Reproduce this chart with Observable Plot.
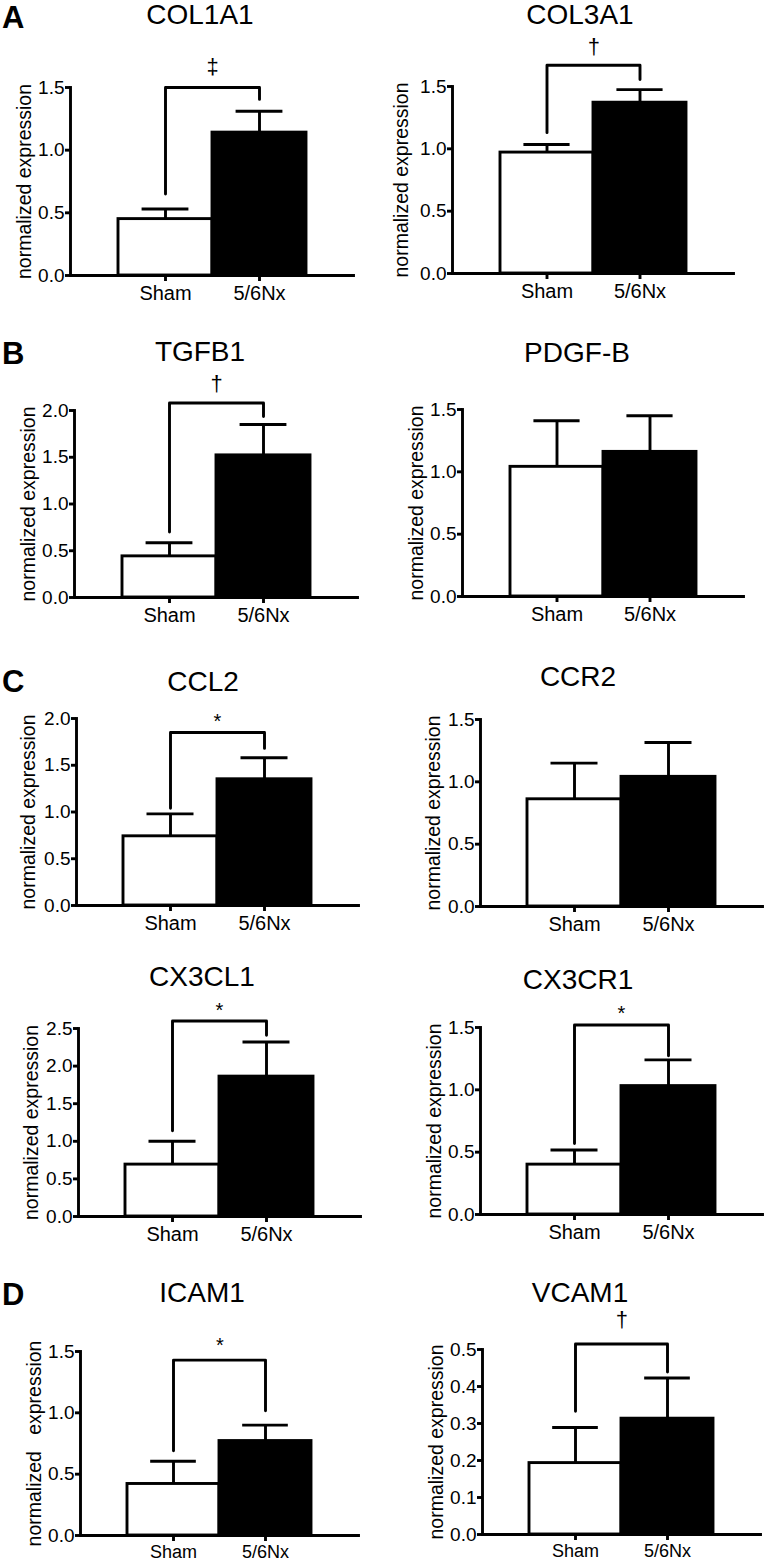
<!DOCTYPE html>
<html><head><meta charset="utf-8">
<script src="https://cdn.jsdelivr.net/npm/d3@7"></script>
<script src="https://cdn.jsdelivr.net/npm/@observablehq/plot@0.6"></script>
<style>
body{margin:0;background:#fff;}
#fig{position:relative;width:767px;height:1561px;background:#fff;font-family:"Liberation Sans",Arial,sans-serif;overflow:hidden;color:#000}
.title{position:absolute;transform:translate(-50%,-50%);font-size:28px;line-height:1;white-space:nowrap}
.letter{position:absolute;left:2px;transform:translateY(-50%);font-weight:bold;font-size:31px;line-height:1}
.panel{position:absolute;left:0;top:0}
svg text{white-space:pre}
</style></head><body><div id="fig"></div>
<script>
// ---- data ----
const groups = ["Sham", "5/6Nx"];
const genes = ["COL1A1", "COL3A1", "TGFB1", "PDGF-B", "CCL2", "CCR2", "CX3CL1", "CX3CR1", "ICAM1", "VCAM1"];
const shamMean = [0.45, 0.97, 0.44, 1.04, 0.74, 0.86, 0.69, 0.40, 0.42, 0.193];
const shamSEM  = [0.08, 0.065, 0.145, 0.37, 0.24, 0.29, 0.31, 0.117, 0.185, 0.096];
const nxMean   = [1.14, 1.37, 1.52, 1.16, 1.35, 1.04, 1.86, 1.03, 0.77, 0.313];
const nxSEM    = [0.17, 0.105, 0.33, 0.29, 0.23, 0.275, 0.46, 0.21, 0.13, 0.11];
const yMax     = [1.5, 1.5, 2.0, 1.5, 2.0, 1.5, 2.5, 1.5, 1.5, 0.5];
const yStep    = [0.5, 0.5, 0.5, 0.5, 0.5, 0.5, 0.5, 0.5, 0.5, 0.1];
const sigSymbol   = ["‡", "†", "†", null, "*", null, "*", "*", "*", "†"];
const bracketSham = [0.65, 1.13, 0.70, null, 1.04, null, 1.14, 0.57, 0.69, 0.333];
const bracketTop  = [1.50, 1.67, 2.08, null, 1.85, null, 2.60, 1.52, 1.43, 0.515];
const bracketNx   = [1.405, 1.556, 1.936, null, 1.68, null, 2.41, 1.273, 1.017, 0.439];
const yLabels = ["normalized expression", "normalized expression", "normalized expression", "normalized expression",
  "normalized expression", "normalized expression", "normalized expression", "normalized expression",
  "normalized   expression", "normalized expression"];
const panelLetters = ["A", null, "B", null, "C", null, null, null, "D", null];

// ---- layout (pixel placement only) ----
const layout = [
 {axisX:70,  yTop:87,   y0:275,  xEnd:353, titleX:200, titleY:15,   letterY:17,   labelLeft:17,  symGap:20, xFont:20},
 {axisX:452, yTop:86,   y0:273,  xEnd:733, titleX:580, titleY:15,   letterY:0,    labelLeft:394, symGap:18, xFont:20},
 {axisX:74,  yTop:410,  y0:597,  xEnd:357, titleX:200, titleY:352,  letterY:353,  labelLeft:21,  symGap:18, xFont:20},
 {axisX:462, yTop:409,  y0:596,  xEnd:743, titleX:577, titleY:353,  letterY:0,    labelLeft:409, symGap:0,  xFont:20},
 {axisX:76,  yTop:718,  y0:905,  xEnd:358, titleX:203, titleY:682,  letterY:681,  labelLeft:21,  symGap:17, xFont:20},
 {axisX:480, yTop:719,  y0:906,  xEnd:762, titleX:578, titleY:677,  letterY:0,    labelLeft:426, symGap:0,  xFont:20},
 {axisX:78,  yTop:1028, y0:1216, xEnd:360, titleX:202, titleY:977,  letterY:0,    labelLeft:24,  symGap:16, xFont:20},
 {axisX:480, yTop:1027, y0:1214, xEnd:762, titleX:578, titleY:980,  letterY:0,    labelLeft:427, symGap:18, xFont:20},
 {axisX:80,  yTop:1351, y0:1535, xEnd:358, titleX:202, titleY:1293, letterY:1294, labelLeft:27,  symGap:21, xFont:18},
 {axisX:482, yTop:1349, y0:1534, xEnd:760, titleX:580, titleY:1293, letterY:0,    labelLeft:429, symGap:23, xFont:18}
];

const fig = document.getElementById("fig");
const SW = 2.9;

genes.forEach((gene, i) => {
  const L = layout[i];
  const left = i % 2 === 0 ? 0 : 380;
  const MT = 70, MB = 40, MR = 6;
  const ML = L.axisX - left;
  const fw = L.xEnd - L.axisX;
  const fh = L.y0 - L.yTop;
  const W = ML + fw + MR, H = MT + fh + MB;
  const bw = fw / 3;
  const bars = groups.map((g, j) => ({
    group: g,
    mean: j ? nxMean[i] : shamMean[i],
    sem: j ? nxSEM[i] : shamSEM[i]
  }));
  const ticks = d3.range(0, yMax[i] + yStep[i] / 2, yStep[i]);
  const marks = [
    Plot.barY(bars, {x: "group", y: "mean", fill: d => d.group === "Sham" ? "white" : "black", stroke: "black", strokeWidth: SW}),
    Plot.ruleX(bars, {x: "group", y1: "mean", y2: d => d.mean + d.sem, stroke: "black", strokeWidth: SW}),
    Plot.tickY(bars, {x: "group", y: d => d.mean + d.sem, insetLeft: bw / 4, insetRight: bw / 4, stroke: "black", strokeWidth: SW}),
    Plot.frame({anchor: "left", stroke: "black", strokeWidth: SW}),
    Plot.frame({anchor: "bottom", stroke: "black", strokeWidth: SW}),
    Plot.axisY({ticks, tickFormat: ".1f", tickSize: 5, tickPadding: 1, fontSize: 19, label: null, strokeWidth: SW}),
    Plot.axisX({tickSize: 6, tickPadding: 4, fontSize: L.xFont, label: null, strokeWidth: SW}),
    Plot.text([yLabels[i]], {text: d => d, frameAnchor: "left", textAnchor: "middle", rotate: -90, lineAnchor: "top", dx: (L.labelLeft - left) - ML, fontSize: 19.5, fill: "black"})
  ];
  if (sigSymbol[i]) {
    const path = [
      {group: "Sham", v: bracketSham[i]},
      {group: "Sham", v: bracketTop[i]},
      {group: "5/6Nx", v: bracketTop[i]},
      {group: "5/6Nx", v: bracketNx[i]}
    ];
    const sym = sigSymbol[i];
    const centerOff = sym === "*" ? 12.5 : 6.4;
    marks.push(Plot.line(path, {x: "group", y: "v", stroke: "black", strokeWidth: SW, curve: "linear"}));
    marks.push(Plot.text([{group: "Sham", v: bracketTop[i], s: sym}], {x: "group", y: "v", text: "s", dx: bw / 2, dy: -L.symGap + centerOff, lineAnchor: "bottom", fontSize: sym === "*" ? 20 : 22, fill: "black"}));
  }
  const svg = Plot.plot({
    width: W, height: H,
    marginLeft: ML, marginRight: MR, marginTop: MT, marginBottom: MB,
    style: {fontFamily: '"Liberation Sans", Arial, sans-serif', color: "black", background: "transparent", overflow: "visible"},
    x: {domain: groups, paddingInner: 0, paddingOuter: 0.5, align: 0.5},
    y: {domain: [0, yMax[i]]},
    marks
  });
  svg.classList.add("panel");
  svg.style.left = left + "px";
  svg.style.top = (L.yTop - MT) + "px";
  svg.style.position = "absolute";
  fig.appendChild(svg);

  const t = document.createElement("div");
  t.className = "title";
  t.textContent = gene;
  t.style.left = L.titleX + "px";
  t.style.top = L.titleY + "px";
  fig.appendChild(t);

  if (panelLetters[i]) {
    const l = document.createElement("div");
    l.className = "letter";
    l.textContent = panelLetters[i];
    l.style.top = L.letterY + "px";
    fig.appendChild(l);
  }
});
</script>
</body></html>
